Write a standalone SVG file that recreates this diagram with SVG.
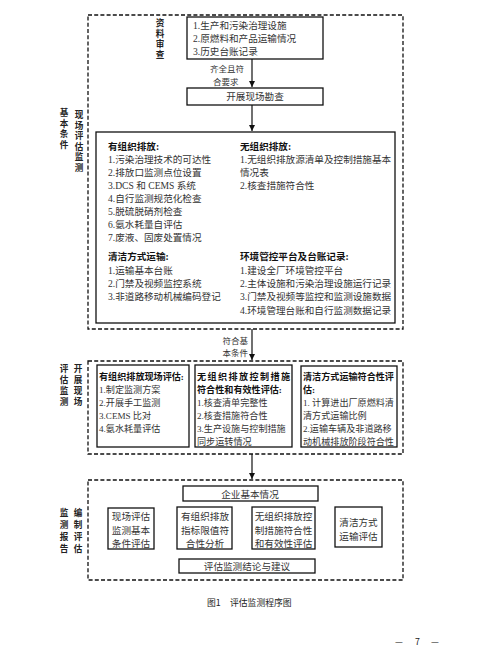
<svg xmlns="http://www.w3.org/2000/svg" width="500" height="650" viewBox="0 0 500 650">
<defs>
<marker id="ah" markerWidth="8" markerHeight="8" refX="6" refY="3" orient="auto" markerUnits="userSpaceOnUse">
<path d="M0,0 L6,3 L0,6 Z" fill="#111"/>
</marker>
<style>
.dash{fill:none;stroke:#111;stroke-width:1.3;stroke-dasharray:4 2.2}
.box{fill:#fff;stroke:#111;stroke-width:1.3}
.t{font-family:"Liberation Serif","Noto Sans CJK SC",serif;font-size:9.6px;fill:#333}
.h{font-family:"Liberation Serif","Noto Sans CJK SC",serif;font-size:9.6px;fill:#111;font-weight:bold}
.s{font-size:9.1px}
.c{text-anchor:middle}
.lab{font-family:"Noto Sans CJK SC",sans-serif;font-size:8.6px;fill:#222;font-weight:bold;text-anchor:middle}
.sm{font-family:"Liberation Serif","Noto Sans CJK SC",serif;font-size:8.5px;fill:#333}
.cap{font-family:"Noto Sans CJK SC",sans-serif;font-size:8.8px;fill:#222}
.con{stroke:#111;stroke-width:1.2;fill:none}
</style>
</defs>
<rect width="500" height="650" fill="#fff"/>

<g id="frames">
<rect class="dash" x="88" y="15" width="315" height="314"/>
<rect class="dash" x="88" y="361" width="315" height="93"/>
<rect class="dash" x="88" y="480" width="315" height="100"/>
</g>

<g id="side-labels">
<text class="lab"><tspan x="160" y="26">资</tspan><tspan x="160" y="36.5">料</tspan><tspan x="160" y="47">审</tspan><tspan x="160" y="57.5">查</tspan></text>
<text class="lab"><tspan x="79" y="118">现</tspan><tspan x="79" y="128.5">场</tspan><tspan x="79" y="139">评</tspan><tspan x="79" y="149.5">估</tspan><tspan x="79" y="160">监</tspan><tspan x="79" y="170.5">测</tspan></text>
<text class="lab"><tspan x="64" y="116">基</tspan><tspan x="64" y="126.5">本</tspan><tspan x="64" y="137">条</tspan><tspan x="64" y="147.5">件</tspan></text>
<text class="lab"><tspan x="78" y="372">开</tspan><tspan x="78" y="383">展</tspan><tspan x="78" y="394">现</tspan><tspan x="78" y="405">场</tspan></text>
<text class="lab"><tspan x="64" y="372">评</tspan><tspan x="64" y="383">估</tspan><tspan x="64" y="394">监</tspan><tspan x="64" y="405">测</tspan></text>
<text class="lab"><tspan x="78" y="516">编</tspan><tspan x="78" y="528">制</tspan><tspan x="78" y="540">评</tspan><tspan x="78" y="552">估</tspan></text>
<text class="lab"><tspan x="64" y="516">监</tspan><tspan x="64" y="528">测</tspan><tspan x="64" y="540">报</tspan><tspan x="64" y="552">告</tspan></text>
</g>

<g id="connectors">
<line class="con" x1="252" y1="59" x2="252" y2="87" marker-end="url(#ah)"/>
<line class="con" x1="252" y1="105" x2="252" y2="131" marker-end="url(#ah)"/>
<line class="con" x1="252" y1="329" x2="252" y2="360" marker-end="url(#ah)"/>
<line class="con" x1="252" y1="454" x2="252" y2="479" marker-end="url(#ah)"/>
<text class="sm"><tspan x="210" y="72">齐全且符</tspan><tspan x="213" y="85">合要求</tspan></text>
<text class="sm" text-anchor="end"><tspan x="248" y="344">符合基</tspan><tspan x="248" y="356">本条件</tspan></text>
</g>

<g id="n-review">
<rect class="box" x="187" y="17" width="136" height="42"/>
<text class="t"><tspan x="193" y="29">1.生产和污染治理设施</tspan><tspan x="193" y="42">2.原燃料和产品运输情况</tspan><tspan x="193" y="55">3.历史台账记录</tspan></text>
</g>

<g id="n-survey">
<rect class="box" x="187" y="88" width="136" height="17"/>
<text class="t c" x="255" y="100">开展现场勘查</text>
</g>

<g id="n-conditions">
<rect class="box" x="96" y="132" width="299" height="191"/>
<text class="h" x="108" y="150">有组织排放:</text>
<text class="t"><tspan x="108" y="163">1.污染治理技术的可达性</tspan><tspan x="108" y="176">2.排放口监测点位设置</tspan><tspan x="108" y="189">3.DCS 和 CEMS 系统</tspan><tspan x="108" y="202">4.自行监测规范化检查</tspan><tspan x="108" y="215">5.脱硫脱硝剂检查</tspan><tspan x="108" y="228">6.氨水耗量自评估</tspan><tspan x="108" y="241">7.废液、固废处置情况</tspan></text>
<text class="h" x="240" y="150">无组织排放:</text>
<text class="t"><tspan x="240" y="163">1.无组织排放源清单及控制措施基本</tspan><tspan x="240" y="176">情况表</tspan><tspan x="240" y="189">2.核查措施符合性</tspan></text>
<text class="h" x="108" y="260">清洁方式运输:</text>
<text class="t"><tspan x="108" y="274">1.运输基本台账</tspan><tspan x="108" y="287">2.门禁及视频监控系统</tspan><tspan x="108" y="300">3.非道路移动机械编码登记</tspan></text>
<text class="h" x="240" y="260">环境管控平台及台账记录:</text>
<text class="t"><tspan x="240" y="274">1.建设全厂环境管控平台</tspan><tspan x="240" y="287">2.主体设施和污染治理设施运行记录</tspan><tspan x="240" y="300">3.门禁及视频等监控和监测设施数据</tspan><tspan x="240" y="314">4.环境管理台账和自行监测数据记录</tspan></text>
</g>

<g id="n-organized-eval">
<rect class="box" x="97" y="365" width="92" height="82"/>
<text class="h s" x="99" y="380">有组织排放现场评估:</text>
<text class="t s"><tspan x="99" y="393">1.制定监测方案</tspan><tspan x="99" y="406">2.开展手工监测</tspan><tspan x="99" y="419">3.CEMS 比对</tspan><tspan x="99" y="432">4.氨水耗量评估</tspan></text>
</g>

<g id="n-unorganized-eval">
<rect class="box" x="195" y="365" width="97" height="82"/>
<text class="h s" x="197" y="380" textLength="93" lengthAdjust="spacing">无组织排放控制措施</text>
<text class="h s" x="197" y="393">符合性和有效性评估:</text>
<text class="t s"><tspan x="197" y="406">1.核查清单完整性</tspan><tspan x="197" y="419">2.核查措施符合性</tspan><tspan x="197" y="432">3.生产设施与控制措施</tspan><tspan x="197" y="445">同步运转情况</tspan></text>
</g>

<g id="n-clean-eval">
<rect class="box" x="301" y="366" width="96" height="81"/>
<text class="h s" x="303" y="380">清洁方式运输符合性评</text>
<text class="h s" x="303" y="393">估:</text>
<text class="t s"><tspan x="303" y="406">1. 计算进出厂原燃料清</tspan><tspan x="303" y="419">清方式运输比例</tspan><tspan x="303" y="432">2.运输车辆及非道路移</tspan><tspan x="303" y="445">动机械排放阶段符合性</tspan></text>
</g>

<g id="n-basic">
<rect class="box" x="183" y="486" width="135" height="15"/>
<text class="t c" x="250" y="497.5">企业基本情况</text>
</g>

<g id="n-r1">
<rect class="box" x="108" y="508" width="46" height="41"/>
<text class="t c"><tspan x="131" y="520">现场评估</tspan><tspan x="131" y="534">监测基本</tspan><tspan x="131" y="547">条件评估</tspan></text>
</g>
<g id="n-r2">
<rect class="box" x="177" y="507" width="55" height="42"/>
<text class="t c"><tspan x="205" y="520">有组织排放</tspan><tspan x="205" y="534">指标限值符</tspan><tspan x="205" y="547">合性分析</tspan></text>
</g>
<g id="n-r3">
<rect class="box" x="252" y="507" width="63" height="42"/>
<text class="t c"><tspan x="283.5" y="520">无组织排放控</tspan><tspan x="283.5" y="534">制措施符合性</tspan><tspan x="283.5" y="547">和有效性评估</tspan></text>
</g>
<g id="n-r4">
<rect class="box" x="335" y="507" width="47" height="40"/>
<text class="t c"><tspan x="358.5" y="526">清洁方式</tspan><tspan x="358.5" y="540">运输评估</tspan></text>
</g>

<g id="n-conclusion">
<rect class="box" x="179" y="559" width="136" height="14"/>
<text class="t c" x="247" y="570">评估监测结论与建议</text>
</g>

<text class="cap"><tspan x="207" y="606">图1</tspan><tspan x="230" y="606">评估监测程序图</tspan></text>
<text class="cap" font-size="11"><tspan x="395" y="645">—</tspan><tspan x="415" y="645">7</tspan><tspan x="431" y="645">—</tspan></text>
</svg>
